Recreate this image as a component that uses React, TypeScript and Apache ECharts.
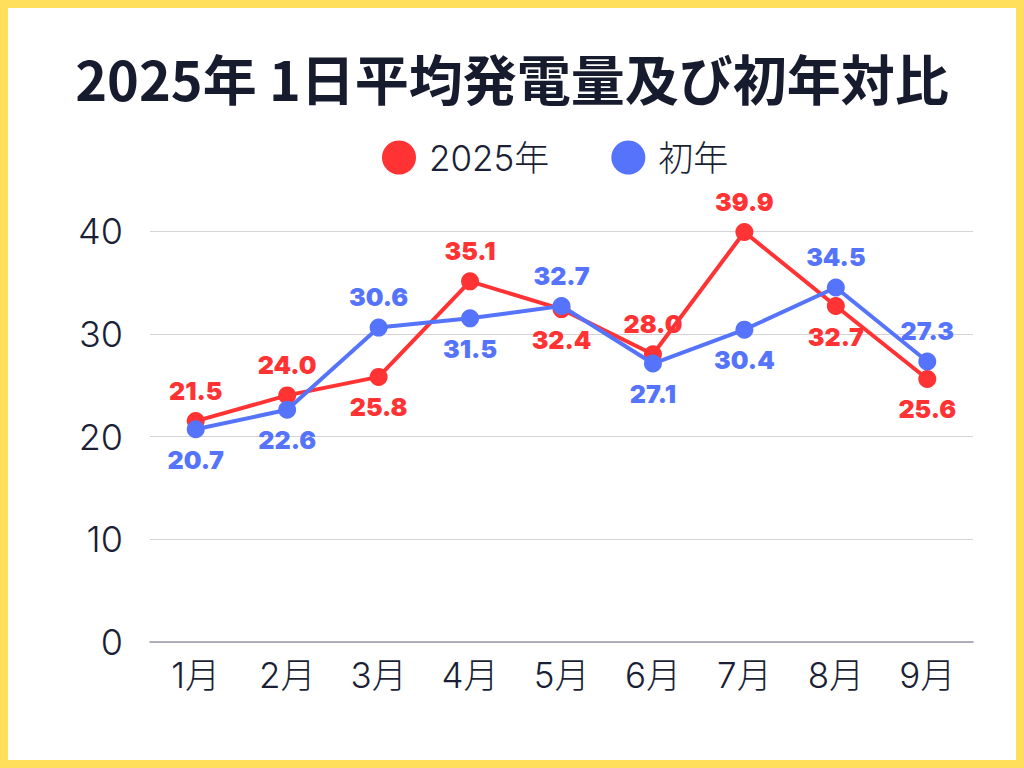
import React, { useEffect, useRef } from "react";
import * as echarts from "echarts";

const categories = ["1月", "2月", "3月", "4月", "5月", "6月", "7月", "8月", "9月"];
const values2025 = [21.5, 24.0, 25.8, 35.1, 32.4, 28.0, 39.9, 32.7, 25.6];
const valuesFirst = [20.7, 22.6, 30.6, 31.5, 32.7, 27.1, 30.4, 34.5, 27.3];
const pos2025 = ["top", "top", "bottom", "top", "bottom", "top", "top", "bottom", "bottom"];
const posFirst = ["bottom", "bottom", "top", "bottom", "top", "bottom", "bottom", "top", "top"];

const RED = "#FF3333";
const BLUE = "#5574FB";
const TEXT = "#1A1F36";

export default function App() {
  const ref = useRef<HTMLDivElement>(null);
  useEffect(() => {
    document.body.style.margin = "0";
    const chart = echarts.init(ref.current!, null, { renderer: "svg" });
    const mk = (vals: number[], pos: string[]) =>
      vals.map((v, i) => ({
        value: v,
        label: { position: pos[i] },
      }));
    const labelStyle = (color: string) => ({
      show: true,
      distance: 9,
      formatter: (p: any) => Number(p.value).toFixed(1),
      fontFamily: "Inter, Noto Sans",
      fontWeight: 900,
      fontSize: 25,
      color,
    });
    chart.setOption({
      animation: false,
      backgroundColor: "#ffffff",
      title: {
        text: "2025年 1日平均発電量及び初年対比",
        left: "center",
        top: 37,
        textStyle: {
          fontFamily: "Noto Sans CJK JP",
          fontWeight: "bold",
          fontSize: 54,
          color: "#161B2E",
        },
      },
      legend: {
        top: 127,
        left: 369,
        icon: "circle",
        itemWidth: 34,
        itemHeight: 34,
        itemGap: 62,
        textStyle: {
          fontFamily: "Inter, Noto Sans CJK JP",
          fontWeight: 300,
          fontSize: 35,
          color: TEXT,
          padding: [0, 0, 0, 8],
        },
        data: ["2025年", "初年"],
      },
      grid: { left: 142, right: 43, top: 223, bottom: 118, containLabel: false },
      xAxis: {
        type: "category",
        data: categories,
        boundaryGap: true,
        axisLine: { show: true, lineStyle: { color: "#9A9AAE", width: 1.5 } },
        axisTick: { show: false },
        axisLabel: {
          fontFamily: "Inter, Noto Sans CJK JP",
          fontWeight: 300,
          fontSize: 35,
          color: TEXT,
          margin: 15,
        },
      },
      yAxis: {
        type: "value",
        min: 0,
        max: 40,
        interval: 10,
        axisLine: { show: false },
        axisTick: { show: false },
        splitLine: { lineStyle: { color: "#D4D4D8", width: 1.2 } },
        axisLabel: {
          fontFamily: "Inter",
          fontWeight: 300,
          fontSize: 36,
          color: TEXT,
          margin: 27,
        },
      },
      series: [
        {
          name: "2025年",
          type: "line",
          data: mk(values2025, pos2025),
          color: RED,
          symbol: "circle",
          symbolSize: 18,
          lineStyle: { width: 4, color: RED },
          itemStyle: { color: RED },
          label: labelStyle(RED),
          z: 2,
        },
        {
          name: "初年",
          type: "line",
          data: mk(valuesFirst, posFirst),
          color: BLUE,
          symbol: "circle",
          symbolSize: 18,
          lineStyle: { width: 4, color: BLUE },
          itemStyle: { color: BLUE },
          label: labelStyle(BLUE),
          z: 3,
        },
      ],
    });
    return () => chart.dispose();
  }, []);
  return (
    <div
      style={{
        position: "fixed",
        left: 0,
        top: 0,
        width: 1024,
        height: 768,
        boxSizing: "border-box",
        border: "8px solid #FFDF5C",
        background: "#ffffff",
      }}
    >
      <div ref={ref} style={{ width: 1008, height: 752 }} />
    </div>
  );
}
